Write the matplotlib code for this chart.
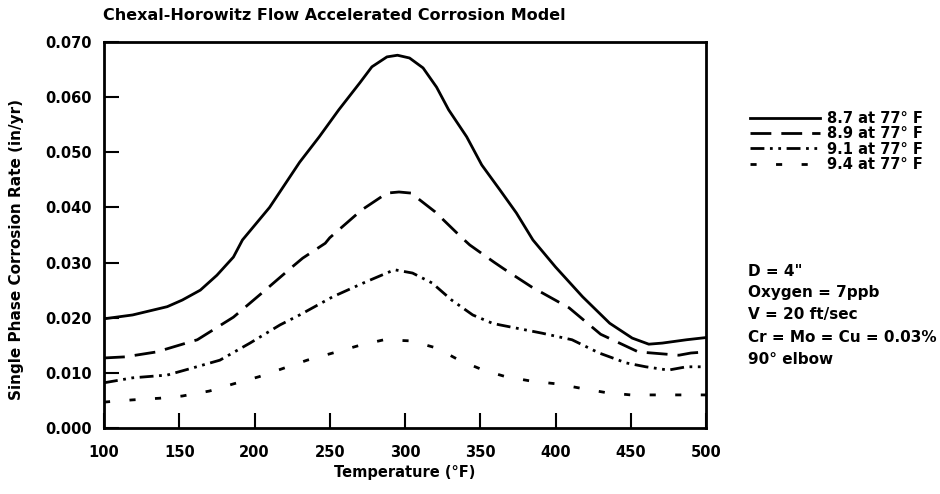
import matplotlib
matplotlib.use("Agg")
import matplotlib.pyplot as plt

plt.rcParams['font.family'] = ['DejaVu Sans']
plt.rcParams['font.weight'] = 'bold'

# temperature (F) and corrosion rate (in/yr)
t_87 = [100, 119, 142, 152, 164, 175, 186, 192, 210, 230, 243, 256, 270, 278, 288, 295,
        303, 312, 321, 329, 341, 351, 363, 374, 385, 400, 418, 436, 451, 462, 471, 487, 500]
r_87 = [0.0198, 0.0205, 0.0220, 0.0232, 0.0250, 0.0277, 0.0310, 0.0341, 0.0400, 0.0482,
        0.0528, 0.0577, 0.0626, 0.0655, 0.0673, 0.0676, 0.0671, 0.0653, 0.0618, 0.0577,
        0.0528, 0.0477, 0.0432, 0.0390, 0.0341, 0.0292, 0.0238, 0.0190, 0.0163, 0.0152,
        0.0154, 0.0160, 0.0164]

t_89 = [100, 114, 135, 162, 186, 205, 225, 232, 247, 250, 271, 288, 296, 304, 320, 337,
        343, 359, 366, 384, 409, 430, 455, 482, 490, 500]
r_89 = [0.0127, 0.0129, 0.0138, 0.0160, 0.0201, 0.0245, 0.0292, 0.0308, 0.0335, 0.0345,
        0.0395, 0.0426, 0.0428, 0.0426, 0.0392, 0.0347, 0.0332, 0.0301, 0.0288, 0.0256,
        0.0218, 0.0170, 0.0138, 0.0132, 0.0136, 0.0138]

t_91 = [100, 119, 142, 159, 177, 197, 217, 230, 252, 274, 293, 305, 318, 331, 345, 358,
        363, 391, 411, 429, 447, 460, 475, 487, 500]
r_91 = [0.0082, 0.0091, 0.0096, 0.0109, 0.0123, 0.0154, 0.0187, 0.0205, 0.0238, 0.0265,
        0.0287, 0.0281, 0.0263, 0.0232, 0.0205, 0.0190, 0.0187, 0.0172, 0.0160, 0.0136,
        0.0118, 0.0111, 0.0105, 0.0111, 0.0111]

t_94 = [100, 119, 137, 152, 170, 186, 203, 220, 235, 252, 270, 286, 304, 321, 336, 352,
        367, 384, 401, 417, 434, 450, 467, 484, 500]
r_94 = [0.0047, 0.0051, 0.0054, 0.0058, 0.0067, 0.0080, 0.0093, 0.0109, 0.0123, 0.0136,
        0.0150, 0.0160, 0.0158, 0.0145, 0.0123, 0.0105, 0.0093, 0.0085, 0.0080, 0.0072,
        0.0064, 0.0060, 0.0060, 0.0060, 0.0060]

labels = ["8.7 at 77° F", "8.9 at 77° F", "9.1 at 77° F", "9.4 at 77° F"]
notes = ['D = 4"', "Oxygen = 7ppb", "V = 20 ft/sec", "Cr = Mo = Cu = 0.03%", "90° elbow"]
x_ticks = [100, 150, 200, 250, 300, 350, 400, 450, 500]
y_ticks = [0.0, 0.01, 0.02, 0.03, 0.04, 0.05, 0.06, 0.07]

W, H = 940, 494
fig = plt.figure(figsize=(W / 100, H / 100), dpi=100)
ax = fig.add_axes([104 / W, 1 - 428 / H, (706 - 104) / W, (428 - 42) / H])

lw = 2.0
ax.plot(t_87, r_87, color='k', lw=lw, label=labels[0])
ax.plot(t_89, r_89, color='k', lw=lw, dashes=(7.5, 3.6), label=labels[1])
ax.plot(t_91, r_91, color='k', lw=lw, dashes=(5.0, 2.0, 1.0, 2.0, 1.0, 2.0), label=labels[2])
ax.plot(t_94, r_94, color='k', lw=lw, dashes=(2.2, 7.0), label=labels[3])

ax.set_xlim(100, 500)
ax.set_ylim(0, 0.07)
ax.set_xticks(x_ticks)
ax.set_yticks(y_ticks)
ax.set_xticklabels([str(v) for v in x_ticks])
ax.set_yticklabels(["%.3f" % v for v in y_ticks])
ax.tick_params(direction='in', length=11, width=1.5, labelsize=10.5, pad=9)
ax.tick_params(axis='x', pad=12)
for s in ax.spines.values():
    s.set_linewidth(2.0)

ax.set_xlabel("Temperature (°F)", fontsize=10.5, fontweight='bold', labelpad=4)
fig.text(17 / W, 1 - 250 / H, "Single Phase Corrosion Rate (in/yr)", rotation=90,
         ha='center', va='center', fontsize=11, fontweight='bold')
fig.text(103 / W, 1 - 16 / H, "Chexal-Horowitz Flow Accelerated Corrosion Model",
         ha='left', va='center', fontsize=11.5, fontweight='bold')

fig.legend(loc='upper left', bbox_to_anchor=(750 / W, 1 - 111 / H), frameon=False,
           fontsize=10.5, handlelength=4.8, handletextpad=0.5, labelspacing=0.02,
           borderpad=0, borderaxespad=0)

for i, n in enumerate(notes):
    fig.text(748 / W, 1 - (271 + i * 22) / H, n, ha='left', va='center',
             fontsize=11, fontweight='bold')

fig.savefig("out.png", dpi=100)
